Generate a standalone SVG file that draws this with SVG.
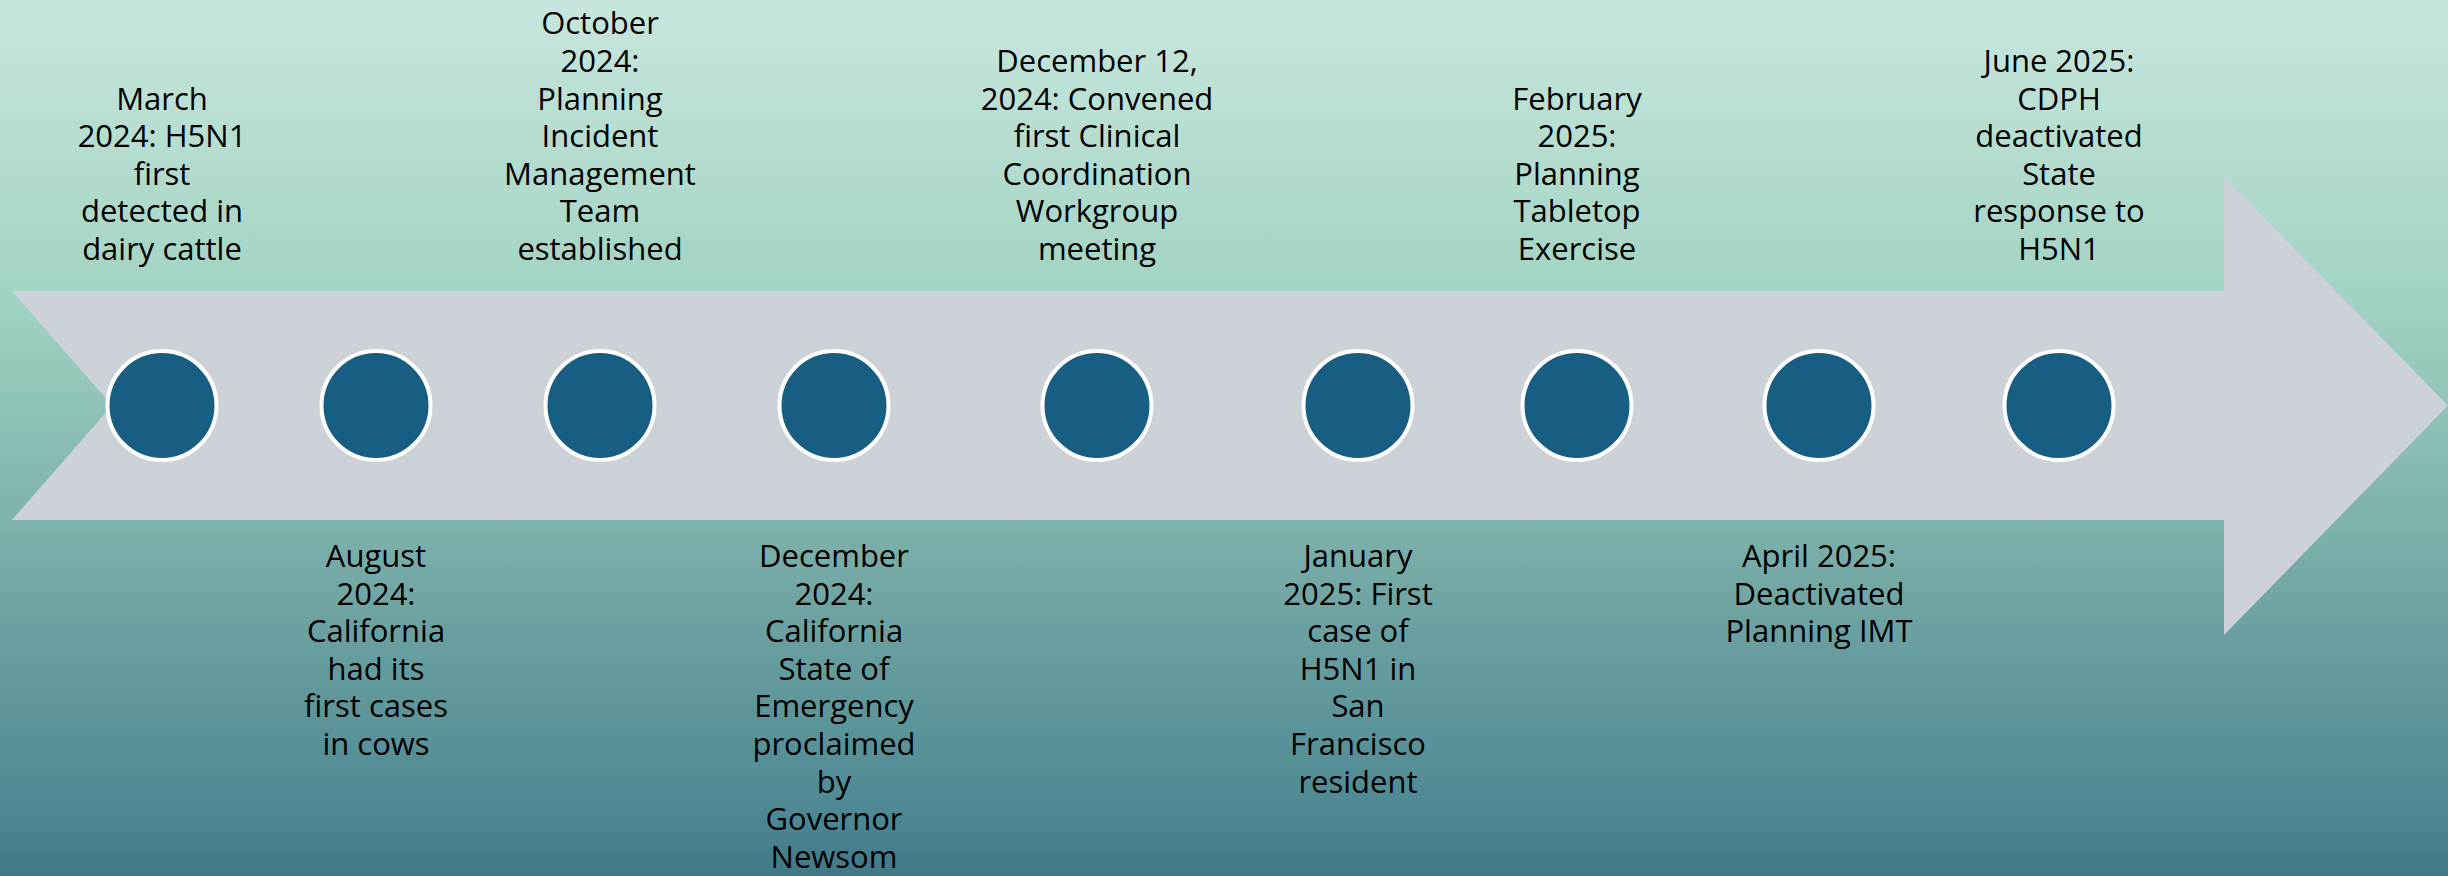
<svg xmlns="http://www.w3.org/2000/svg" width="2448" height="876" viewBox="0 0 2448 876">
  <defs>
    <linearGradient id="bg" x1="0" y1="0" x2="0" y2="1">
      <stop offset="0" stop-color="#c8e6dd"/>
      <stop offset="0.33" stop-color="#a3d4c3"/>
      <stop offset="0.6" stop-color="#7db1ab"/>
      <stop offset="0.73" stop-color="#699f9f"/>
      <stop offset="0.93" stop-color="#4d8893"/>
      <stop offset="1" stop-color="#417887"/>
    </linearGradient>
    <style>
      .dot { fill: #175e82; stroke: #ffffff; stroke-width: 4; }
      .lbl { font-family: "Open Sans", "Liberation Sans", sans-serif; font-size: 31px; fill: #000000; text-anchor: middle; }
    </style>
  </defs>
  <rect x="0" y="0" width="2448" height="876" fill="url(#bg)"/>
  <g id="timeline-arrow">
    <polygon points="12,291 2224,291 2224,177 2448,405.5 2224,635 2224,520 12,520 112,405.5" fill="#cdd2d9"/>
  </g>
  <g id="connectors"></g>

  <g id="ev1">
    <circle class="dot" cx="162" cy="405.5" r="54.5"/>
    <text class="lbl"><tspan x="162" y="109.6">March</tspan><tspan x="162" y="147.2">2024: H5N1</tspan><tspan x="162" y="184.8">first</tspan><tspan x="162" y="222.4">detected in</tspan><tspan x="162" y="260">dairy cattle</tspan></text>
  </g>
  <g id="ev2">
    <circle class="dot" cx="376" cy="405.5" r="54.5"/>
    <text class="lbl"><tspan x="376" y="567">August</tspan><tspan x="376" y="604.6">2024:</tspan><tspan x="376" y="642.2">California</tspan><tspan x="376" y="679.8">had its</tspan><tspan x="376" y="717.4">first cases</tspan><tspan x="376" y="755">in cows</tspan></text>
  </g>
  <g id="ev3">
    <circle class="dot" cx="600" cy="405.5" r="54.5"/>
    <text class="lbl"><tspan x="600" y="34.4">October</tspan><tspan x="600" y="72">2024:</tspan><tspan x="600" y="109.6">Planning</tspan><tspan x="600" y="147.2">Incident</tspan><tspan x="600" y="184.8">Management</tspan><tspan x="600" y="222.4">Team</tspan><tspan x="600" y="260">established</tspan></text>
  </g>
  <g id="ev4">
    <circle class="dot" cx="834" cy="405.5" r="54.5"/>
    <text class="lbl"><tspan x="834" y="567">December</tspan><tspan x="834" y="604.6">2024:</tspan><tspan x="834" y="642.2">California</tspan><tspan x="834" y="679.8">State of</tspan><tspan x="834" y="717.4">Emergency</tspan><tspan x="834" y="755">proclaimed</tspan><tspan x="834" y="792.6">by</tspan><tspan x="834" y="830.2">Governor</tspan><tspan x="834" y="867.8">Newsom</tspan></text>
  </g>
  <g id="ev5">
    <circle class="dot" cx="1097" cy="405.5" r="54.5"/>
    <text class="lbl"><tspan x="1097" y="72">December 12,</tspan><tspan x="1097" y="109.6">2024: Convened</tspan><tspan x="1097" y="147.2">first Clinical</tspan><tspan x="1097" y="184.8">Coordination</tspan><tspan x="1097" y="222.4">Workgroup</tspan><tspan x="1097" y="260">meeting</tspan></text>
  </g>
  <g id="ev6">
    <circle class="dot" cx="1358" cy="405.5" r="54.5"/>
    <text class="lbl"><tspan x="1358" y="567">January</tspan><tspan x="1358" y="604.6">2025: First</tspan><tspan x="1358" y="642.2">case of</tspan><tspan x="1358" y="679.8">H5N1 in</tspan><tspan x="1358" y="717.4">San</tspan><tspan x="1358" y="755">Francisco</tspan><tspan x="1358" y="792.6">resident</tspan></text>
  </g>
  <g id="ev7">
    <circle class="dot" cx="1577" cy="405.5" r="54.5"/>
    <text class="lbl"><tspan x="1577" y="109.6">February</tspan><tspan x="1577" y="147.2">2025:</tspan><tspan x="1577" y="184.8">Planning</tspan><tspan x="1577" y="222.4">Tabletop</tspan><tspan x="1577" y="260">Exercise</tspan></text>
  </g>
  <g id="ev8">
    <circle class="dot" cx="1819" cy="405.5" r="54.5"/>
    <text class="lbl"><tspan x="1819" y="567">April 2025:</tspan><tspan x="1819" y="604.6">Deactivated</tspan><tspan x="1819" y="642.2">Planning IMT</tspan></text>
  </g>
  <g id="ev9">
    <circle class="dot" cx="2059" cy="405.5" r="54.5"/>
    <text class="lbl"><tspan x="2059" y="72">June 2025:</tspan><tspan x="2059" y="109.6">CDPH</tspan><tspan x="2059" y="147.2">deactivated</tspan><tspan x="2059" y="184.8">State</tspan><tspan x="2059" y="222.4">response to</tspan><tspan x="2059" y="260">H5N1</tspan></text>
  </g>
</svg>
